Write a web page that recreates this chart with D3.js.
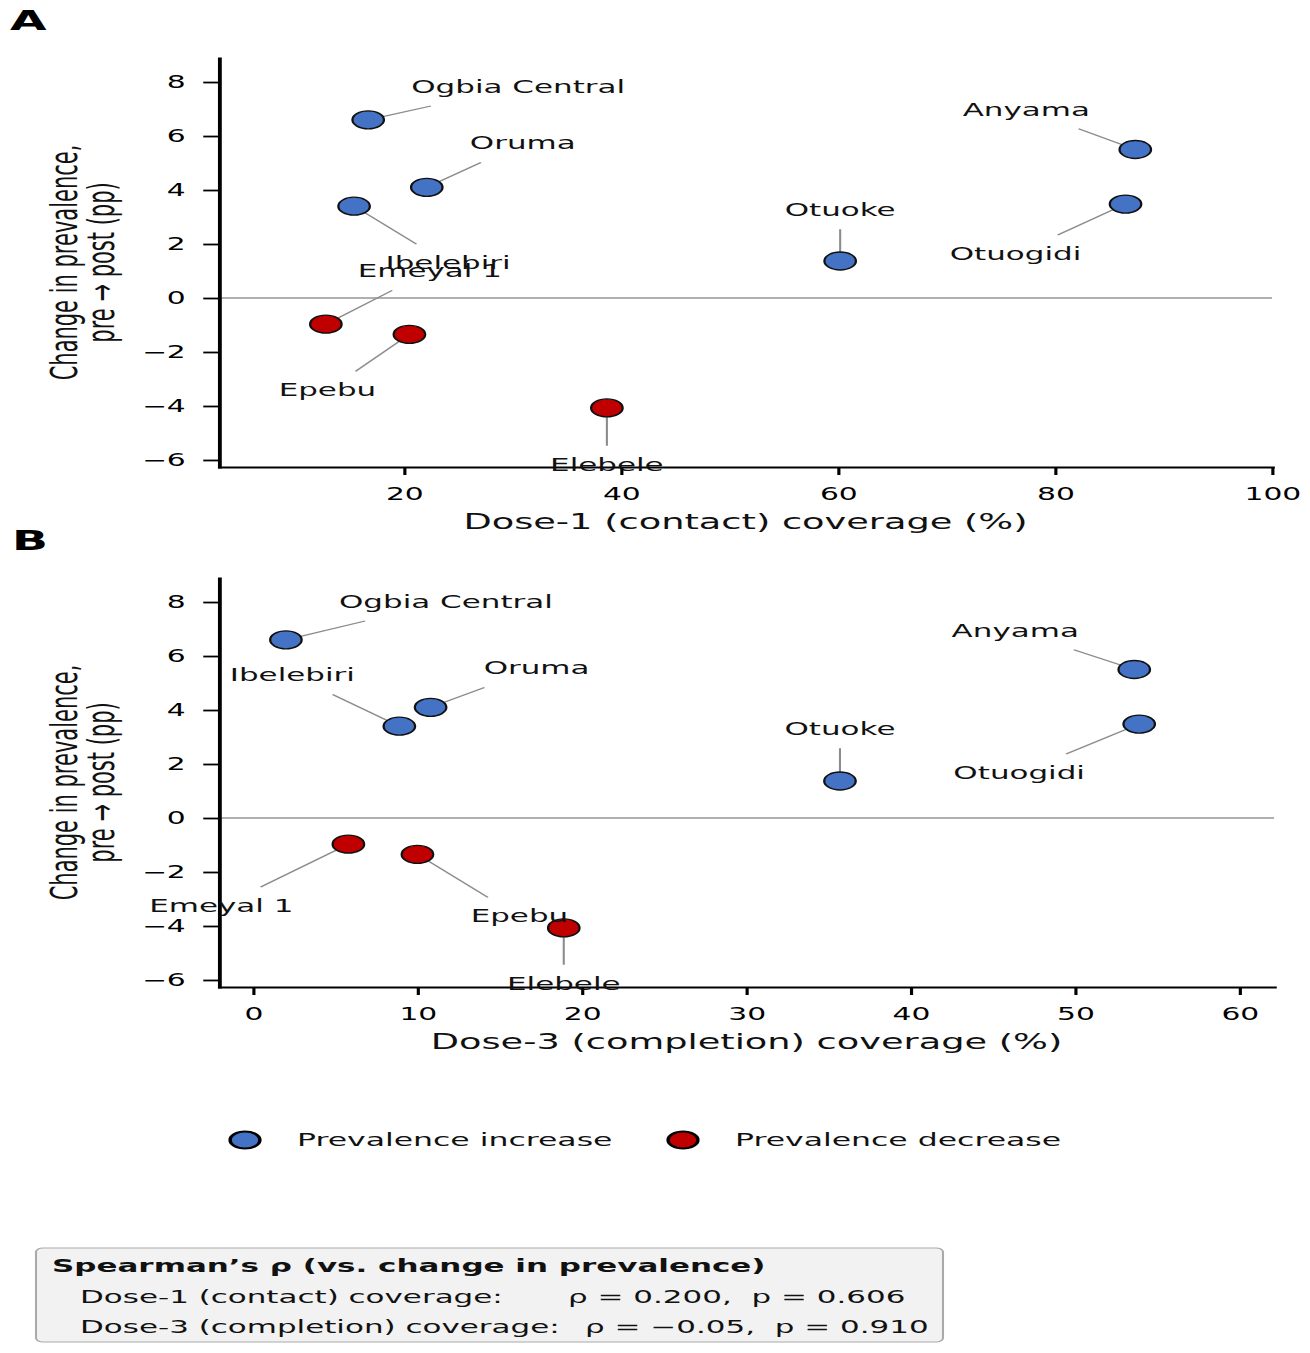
<!DOCTYPE html>
<meta charset="utf-8">
<style>
body { margin: 0; background: #fff; }
svg { display: block; font-family: "DejaVu Sans", sans-serif; }
.axis path { stroke: #000; stroke-width: 2.2; }
.axis line { stroke: #000; stroke-width: 1.8; }
.axis text { font-size: 17px; fill: #000; font-family: "DejaVu Sans", sans-serif; }
.zero { stroke: #b0b0b0; stroke-width: 2; }
.conn { stroke: #8c8c8c; stroke-width: 1.2; }
.lab { font-size: 17.7px; fill: #111; }
.title { font-size: 21px; fill: #111; }
</style>
<body>
<script src="https://d3js.org/d3.v7.min.js"></script>
<script>
// site-level values
var sites  = ["Ogbia Central", "Oruma", "Ibelebiri", "Emeyal 1", "Epebu", "Elebele", "Otuoke", "Anyama", "Otuogidi"];
var dose1  = [16.7, 22.1, 15.4, 12.8, 20.5, 38.7, 60.2, 87.4, 86.5];
var dose3  = [2.0, 10.8, 8.9, 5.8, 10.0, 18.9, 35.7, 53.6, 53.9];
var change = [6.6, 4.1, 3.4, -0.97, -1.35, -4.07, 1.37, 5.5, 3.48];

var xTicksA = [20, 40, 60, 80, 100];
var xTicksB = [0, 10, 20, 30, 40, 50, 60];
var yTicks  = [-6, -4, -2, 0, 2, 4, 6, 8];

var legendLabels = ["Prevalence increase", "Prevalence decrease"];
var statTitle = "Spearman\u2019s \u03c1 (vs. change in prevalence)";
var statRows  = ["Dose-1 (contact) coverage:", "Dose-3 (completion) coverage:"];
var rhoVals   = ["0.200", "\u22120.05"];
var pVals     = ["0.606", "0.910"];

// the whole figure is stretched horizontally
var SX = 1.75, W = 1310, H = 1353, IW = W / SX;
var colUp = "#4472C4", colDown = "#C00000";

// label offsets (image px from point to text centre / baseline)
var labelOffA = {
  "Ogbia Central": [150, -27], "Oruma": [96, -38], "Ibelebiri": [94, 63],
  "Emeyal 1": [104, -47], "Epebu": [-82, 62], "Elebele": [0, 63],
  "Otuoke": [0, -45], "Anyama": [-109, -34], "Otuogidi": [-110, 56]
};
var labelOffB = {
  "Ogbia Central": [160, -32], "Ibelebiri": [-107, -45], "Oruma": [106, -33],
  "Emeyal 1": [-127, 68], "Epebu": [102, 68], "Elebele": [0, 62],
  "Otuoke": [0, -46], "Anyama": [-119, -33], "Otuogidi": [-120, 55]
};

var panels = [
  {letter: "A", xs: dose1, xDomain: [2.95, 100], xTicks: xTicksA, xLabel: "Dose-1 (contact) coverage (%)",
   left: 219, right: 1272, top: 58, bottom: 467, off: labelOffA, letterX: 10},
  {letter: "B", xs: dose3, xDomain: [-2.07, 62.1], xTicks: xTicksB, xLabel: "Dose-3 (completion) coverage (%)",
   left: 219, right: 1274, top: 578, bottom: 987, off: labelOffB, letterX: 12}
];

var svg = d3.select("body").append("svg")
    .attr("width", W)
    .attr("height", H)
    .attr("viewBox", "0 0 " + IW + " " + H)
    .attr("preserveAspectRatio", "none");

panels.forEach(function(p) {
  var x = d3.scaleLinear().domain(p.xDomain).range([p.left / SX, p.right / SX]);
  var y = d3.scaleLinear().domain([-6.26, 8.89]).range([p.bottom, p.top]);
  var g = svg.append("g");

  g.append("text")
      .attr("x", p.letterX / SX)
      .attr("y", p.top - 28)
      .attr("font-size", 27)
      .attr("font-weight", "bold")
      .text(p.letter);

  g.append("line")
      .attr("class", "zero")
      .attr("x1", x.range()[0]).attr("x2", x.range()[1])
      .attr("y1", y(0)).attr("y2", y(0));

  g.append("g")
      .attr("class", "axis")
      .attr("transform", "translate(0," + p.bottom + ")")
      .call(d3.axisBottom(x).tickValues(p.xTicks).tickSize(8).tickSizeOuter(0).tickPadding(13));

  g.append("g")
      .attr("class", "axis")
      .attr("transform", "translate(" + (p.left / SX) + ",0)")
      .call(d3.axisLeft(y).tickValues(yTicks).tickSize(9).tickSizeOuter(0).tickPadding(10));

  g.selectAll(".axis path").attr("stroke-linecap", "square");

  g.append("text")
      .attr("class", "title")
      .attr("x", (x.range()[0] + x.range()[1]) / 2)
      .attr("y", p.bottom + 62)
      .attr("text-anchor", "middle")
      .text(p.xLabel);

  var ylab = g.append("text")
      .attr("class", "title")
      .attr("font-size", 19.5)
      .attr("text-anchor", "middle")
      .attr("transform", "translate(" + (77 / SX) + "," + ((p.top + p.bottom) / 2) + ") rotate(-90)");
  ylab.append("tspan").attr("x", 0).attr("dy", 0).text("Change in prevalence,");
  ylab.append("tspan").attr("x", 0).attr("dy", 21).text("pre \u2192 post (pp)");

  var gConn = g.append("g");
  var gDots = g.append("g");
  var gLab = g.append("g");

  sites.forEach(function(s, i) {
    var cx = x(p.xs[i]), cy = y(change[i]);
    var o = p.off[s];
    var t = gLab.append("text")
        .attr("class", "lab")
        .attr("x", cx + o[0] / SX)
        .attr("y", cy + o[1])
        .attr("text-anchor", "middle")
        .text(s);
    var b = t.node().getBBox(), pad = 9;
    var mx = b.x + b.width / 2, my = b.y + b.height / 2;
    var dx = cx - mx, dy = cy - my;
    var tx = dx === 0 ? Infinity : (b.width / 2 + pad) / Math.abs(dx);
    var ty = dy === 0 ? Infinity : (b.height / 2 + pad) / Math.abs(dy);
    var k = Math.min(tx, ty);
    gConn.append("line")
        .attr("class", "conn")
        .attr("x1", mx + dx * k).attr("y1", my + dy * k)
        .attr("x2", cx).attr("y2", cy);

    gDots.append("circle")
        .attr("cx", cx).attr("cy", cy).attr("r", 9)
        .attr("fill", change[i] > 0 ? colUp : colDown)
        .attr("stroke", "#111")
        .attr("stroke-width", 1.3);
  });
});

// legend
var legX = [245, 683];
legendLabels.forEach(function(l, i) {
  svg.append("circle")
      .attr("cx", legX[i] / SX).attr("cy", 1140).attr("r", 8.5)
      .attr("fill", i === 0 ? colUp : colDown)
      .attr("stroke", "#000").attr("stroke-width", 2);
  svg.append("text")
      .attr("x", (legX[i] + 52) / SX).attr("y", 1146.5)
      .attr("font-size", 18).attr("fill", "#111")
      .text(l);
});

// stats box
svg.append("rect")
    .attr("x", 36 / SX).attr("y", 1248)
    .attr("width", (943 - 36) / SX).attr("height", 94)
    .attr("rx", 4)
    .attr("fill", "#f2f2f2")
    .attr("stroke", "#aaaaaa")
    .attr("stroke-width", 1.2);

svg.append("text")
    .attr("x", 52 / SX).attr("y", 1272)
    .attr("font-size", 17.7).attr("font-weight", "bold").attr("fill", "#111")
    .text(statTitle);

var rhoX = [568, 585];
statRows.forEach(function(r, i) {
  var yy = 1303 + i * 30;
  svg.append("text")
      .attr("x", 80 / SX).attr("y", yy)
      .attr("font-size", 17.7).attr("fill", "#111")
      .text(r);
  svg.append("text")
      .attr("x", rhoX[i] / SX).attr("y", yy)
      .attr("font-size", 17.7).attr("fill", "#111")
      .attr("xml:space", "preserve")
      .style("white-space", "pre")
      .text("\u03c1 = " + rhoVals[i] + ",  p = " + pVals[i]);
});
</script>
</body>
